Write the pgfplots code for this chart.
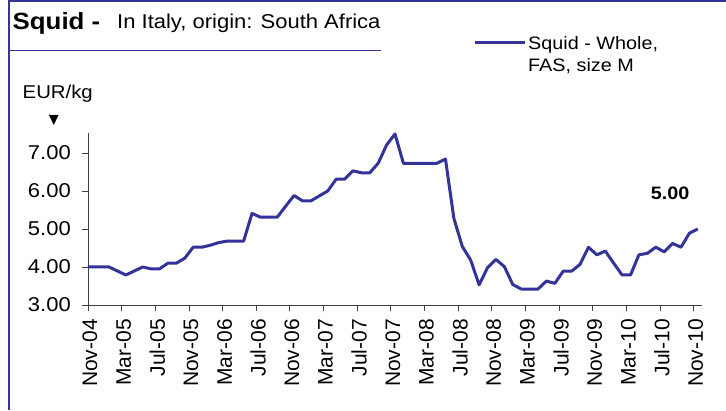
\documentclass[border=0pt]{standalone}
\usepackage{fontspec}
\setmainfont{Liberation Sans}[FakeStretch=1.1]
\newfontfamily\plainfont{Liberation Sans}
\usepackage{pgfplots}
\pgfplotsset{compat=1.18}
\definecolor{sqblue}{RGB}{51,51,153}
\pgfplotstableread{
x y
0 4.00
2.5 4.00
4.5 3.79
6.5 4.00
7.5 3.95
8.5 3.95
9.5 4.10
10.5 4.10
11.5 4.23
12.5 4.52
13.5 4.52
14.5 4.57
15.5 4.64
16.5 4.68
17.5 4.68
18.5 4.68
19.5 5.41
20.5 5.31
21.5 5.31
22.5 5.31
23.5 5.60
24.5 5.88
25.5 5.74
26.5 5.74
27.5 5.87
28.5 6.00
29.5 6.31
30.5 6.31
31.5 6.53
32.5 6.48
33.5 6.48
34.5 6.73
35.5 7.21
36.5 7.50
37.5 6.73
38.5 6.73
39.5 6.73
40.5 6.73
41.5 6.73
42.5 6.84
43.5 5.28
44.5 4.54
45.5 4.18
46.5 3.53
47.5 3.98
48.5 4.20
49.5 4.01
50.5 3.54
51.5 3.42
52.5 3.42
53.5 3.42
54.5 3.63
55.5 3.57
56.5 3.89
57.5 3.89
58.5 4.07
59.5 4.52
60.5 4.32
61.5 4.42
62.5 4.10
63.5 3.79
64.5 3.79
65.5 4.32
66.5 4.36
67.5 4.52
68.5 4.40
69.5 4.62
70.5 4.52
71.5 4.89
72.5 5.00
}\squid
\begin{document}
\begin{tikzpicture}[x=1pt,y=1pt]
\path[use as bounding box] (0,0) rectangle (726,410);
\draw[sqblue, line width=2pt] (8.5,0) -- (8.5,409) -- (726,409);
\draw[sqblue, line width=1.5pt] (8.5,359.5) -- (381,359.5);
\node[anchor=base west, inner sep=0] at (12.5,380) {\fontsize{23.5}{23.5}\selectfont\bfseries Squid -};
\node[anchor=base west, inner sep=0] at (117,381) {\fontsize{20}{20}\selectfont In Italy, origin: South Africa};
\node[anchor=base west, inner sep=0] at (22.5,311) {\fontsize{18.5}{18.5}\selectfont EUR/kg};
\fill (49,295) -- (58.5,295) -- (53.75,285) -- cycle;
\draw[sqblue, line width=3pt] (475,367) -- (525,367);
\node[anchor=base west, inner sep=0] at (528,360) {\fontsize{18}{18}\selectfont Squid - Whole,};
\node[anchor=base west, inner sep=0] at (528,338.5) {\fontsize{18}{18}\selectfont FAS, size M};
\begin{axis}[
  at={(88pt,105pt)}, anchor=south west,
  scale only axis, width=614pt, height=172pt,
  xmin=0, xmax=73, ymin=3, ymax=7.526,
  axis x line*=bottom, axis y line*=left,
  axis line style={black!75, line width=0.8pt},
  xtick={0,4,...,72},
  xticklabels={Nov-04,Mar-05,Jul-05,Nov-05,Mar-06,Jul-06,Nov-06,Mar-07,Jul-07,Nov-07,Mar-08,Jul-08,Nov-08,Mar-09,Jul-09,Nov-09,Mar-10,Jul-10,Nov-10},
  ytick={3,4,5,6,7},
  tick align=outside, major tick length=6pt,
  tick style={black!75, line width=0.8pt},
  yticklabel style={anchor=east, inner sep=0pt, xshift=-11pt, font=\fontsize{20}{20}\selectfont, /pgf/number format/fixed, /pgf/number format/fixed zerofill, /pgf/number format/precision=2, /pgf/number format/assume math mode=true},
  xticklabel style={rotate=90, anchor=east, inner sep=0pt, xshift=-8pt, yshift=-2pt, font=\plainfont\fontsize{21}{21}\selectfont},
  clip=false,
]
\addplot[sqblue, line width=3pt, line join=round] table[x=x,y=y] {\squid};
\node[font=\fontsize{18}{18}\selectfont\bfseries] at (axis cs:69.2,5.95) {5.00};
\end{axis}
\end{tikzpicture}
\end{document}
